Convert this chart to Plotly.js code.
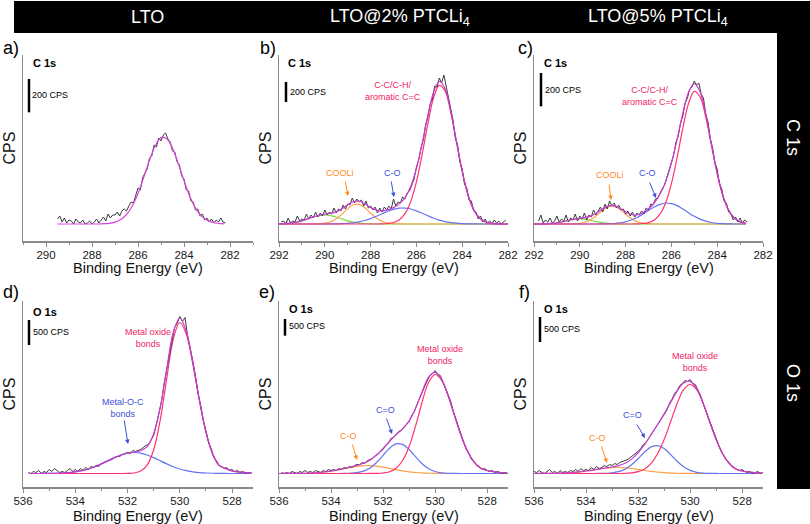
<!DOCTYPE html>
<html>
<head>
<meta charset="utf-8">
<script src="https://cdn.plot.ly/plotly-3.0.1.min.js"></script>
<style>html,body{margin:0;padding:0;background:#fff;}#chart{width:810px;height:524px;}</style>
</head>
<body>
<div id="chart"></div>
<script>
// ---------------- DATA (binding energy in eV, intensity in CPS) ----------------
// Panel a: LTO, C 1s
const E_a_raw = [289.5,289.4,289.3,289.2,289.1,289.0,288.9,288.8,288.7,288.6,288.5,288.4,288.3,288.2,288.1,288.0,287.9,287.8,287.7,287.6,287.5,287.4,287.3,287.2,287.1,287.0,286.9,286.8,286.7,286.6,286.5,286.4,286.3,286.2,286.1,286.0,285.9,285.8,285.7,285.6,285.5,285.4,285.3,285.2,285.1,285.0,284.9,284.8,284.7,284.6,284.5,284.4,284.3,284.2,284.1,284.0,283.9,283.8,283.7,283.6,283.5,283.4,283.3,283.2,283.1,283.0,282.9,282.8,282.7,282.6,282.5,282.4,282.3,282.2];
const a_raw = [30,48,12,36,6,24,18,0,30,12,6,24,0,6,18,0,12,30,6,24,42,18,60,36,54,
  54,72,48,78,90,78,108,132,126,180,216,204,276,306,330,396,408,474,462,516,
  498,534,546,510,492,438,432,372,354,288,270,204,198,138,132,84,90,48,60,24,
  36,12,30,6,24,12,36,12,6];
const E_a_fit = [289.5,289.25,289.0,288.75,288.5,288.25,288.0,287.75,287.5,287.25,287.0,286.75,286.5,286.25,286.0,285.75,285.5,285.25,285.0,284.75,284.5,284.25,284.0,283.75,283.5,283.25,283.0,282.75,282.5,282.25];
const a_fit = [0,0,0,0,0,0,0,0,2,4,11,27,57,108,183,280,382,469,518,512,455,362,259,166,95,49,23,10,4,1];

// Panel b: LTO@2% PTCLi4, C 1s
const E_b_raw = [291.9,291.8,291.7,291.6,291.5,291.4,291.3,291.2,291.1,291.0,
  290.9,290.8,290.7,290.6,290.5,290.4,290.3,290.2,290.1,290.0,
  289.9,289.8,289.7,289.6,289.5,289.4,289.3,289.2,289.1,289.0,
  288.9,288.8,288.7,288.6,288.5,288.4,288.3,288.2,288.1,288.0,
  287.9,287.8,287.7,287.6,287.5,287.4,287.3,287.2,287.1,287.0,
  286.9,286.8,286.7,286.6,286.5,286.4,286.3,286.2,286.1,286.0,
  285.9,285.8,285.7,285.6,285.5,285.4,285.3,285.2,285.1,285.0,
  284.9,284.8,284.7,284.6,284.5,284.4,284.3,284.2,284.1,284.0,
  283.9,283.8,283.7,283.6,283.5,283.4,283.3,283.2,283.1,283.0,
  282.9,282.8,282.7,282.6,282.5,282.4,282.3,282.2,282.1];
const b_raw = [20,30,0,60,10,30,20,80,30,50,
  40,100,50,90,60,120,70,110,80,140,
  90,120,100,160,110,150,130,190,150,200,
  190,260,210,250,220,240,180,230,160,180,
  140,170,110,160,120,170,140,180,150,250,
  180,220,210,270,250,310,330,400,450,570,
  640,760,840,990,1070,1200,1250,1380,1370,1460,
  1410,1490,1370,1280,1160,1040,860,790,620,550,
  400,360,240,230,130,120,50,80,20,50,
  10,30,0,40,10,30,0,20,40];
const E_b_fit = [292.0,291.75,291.5,291.25,291.0,290.75,290.5,290.25,290.0,289.75,289.5,289.25,289.0,288.75,288.5,288.25,288.0,287.75,287.5,287.25,287.0,286.75,286.5,286.25,286.0,285.75,285.5,285.25,285.0,284.75,284.5,284.25,284.0,283.75,283.5,283.25,283.0,282.75,282.5,282.25,282.0];
const b_green  = [2,4,9,18,32,51,70,84,90,84,70,51,32,18,9,4,2,0,0,0,0,0,0,0,0,0,0,0,0,0,0,0,0,0,0,0,0,0,0,0,0];
const b_orange = [0,0,0,0,0,0,1,3,8,22,52,99,154,193,197,163,110,61,27,10,3,1,0,0,0,0,0,0,0,0,0,0,0,0,0,0,0,0,0,0,0];
const b_blue   = [0,0,0,0,0,0,0,0,0,1,2,3,7,12,22,35,54,77,102,127,146,158,159,150,131,107,82,58,39,24,14,8,4,2,1,0,0,0,0,0,0];
const b_pink   = [0,0,0,0,0,0,0,0,0,0,0,0,0,0,0,0,0,0,2,5,15,42,103,224,422,696,1002,1261,1386,1331,1117,818,524,293,143,61,23,7,2,0,0];
const b_env    = [2,4,9,18,32,51,71,87,98,107,124,153,193,223,228,202,166,138,131,142,164,201,262,374,553,803,1084,1319,1425,1355,1131,826,528,295,144,61,23,7,2,0,0];

// Panel c: LTO@5% PTCLi4, C 1s
const E_c_raw = [291.8,291.7,291.6,291.5,291.4,291.3,291.2,291.1,291.0,
  290.9,290.8,290.7,290.6,290.5,290.4,290.3,290.2,290.1,290.0,
  289.9,289.8,289.7,289.6,289.5,289.4,289.3,289.2,289.1,289.0,
  288.9,288.8,288.7,288.6,288.5,288.4,288.3,288.2,288.1,288.0,
  287.9,287.8,287.7,287.6,287.5,287.4,287.3,287.2,287.1,287.0,
  286.9,286.8,286.7,286.6,286.5,286.4,286.3,286.2,286.1,286.0,
  285.9,285.8,285.7,285.6,285.5,285.4,285.3,285.2,285.1,285.0,
  284.9,284.8,284.7,284.6,284.5,284.4,284.3,284.2,284.1,284.0,
  283.9,283.8,283.7,283.6,283.5,283.4,283.3,283.2,283.1,283.0,
  282.9,282.8,282.7];
const c_raw = [18,54,6,24,12,36,6,18,48,
  12,30,18,54,12,36,24,60,18,48,
  30,66,24,54,42,84,54,78,102,72,
  120,90,138,108,126,96,114,84,90,60,
  78,48,72,42,66,54,78,60,96,84,
  120,114,150,156,186,210,234,282,318,378,
  414,492,528,606,648,726,756,810,822,858,
  834,846,780,756,660,612,510,456,366,330,
  240,210,138,126,72,60,24,42,12,36,
  6,24,12];
const E_c_fit = [292.0,291.75,291.5,291.25,291.0,290.75,290.5,290.25,290.0,289.75,289.5,289.25,289.0,288.75,288.5,288.25,288.0,287.75,287.5,287.25,287.0,286.75,286.5,286.25,286.0,285.75,285.5,285.25,285.0,284.75,284.5,284.25,284.0,283.75,283.5,283.25,283.0,282.75];
const c_green  = [0,0,1,4,7,14,21,28,30,28,21,14,7,4,1,0,0,0,0,0,0,0,0,0,0,0,0,0,0,0,0,0,0,0,0,0,0,0];
const c_orange = [0,0,0,0,0,0,0,1,4,12,28,53,83,104,106,88,59,33,14,5,2,0,0,0,0,0,0,0,0,0,0,0,0,0,0,0,0,0];
const c_blue   = [0,0,0,0,0,0,0,0,0,0,0,0,1,1,3,7,13,24,39,59,81,102,118,126,122,110,90,67,46,29,17,9,4,2,1,0,0,0];
const c_pink   = [0,0,0,0,0,0,0,0,0,0,0,0,0,0,0,0,0,0,1,3,8,24,59,128,242,400,575,724,796,764,641,470,301,168,82,35,13,4];
const c_env    = [0,0,1,4,7,14,21,29,34,40,49,67,91,109,110,95,73,57,54,67,91,126,178,254,365,509,665,791,842,794,658,479,305,170,83,36,13,4];

// Panel d: LTO, O 1s
const E_d_raw = [535.8,535.7,535.6,535.5,535.4,535.3,535.2,535.1,535.0,
  534.9,534.8,534.7,534.6,534.5,534.4,534.3,534.2,534.1,534.0,
  533.9,533.8,533.7,533.6,533.5,533.4,533.3,533.2,533.1,533.0,
  532.9,532.8,532.7,532.6,532.5,532.4,532.3,532.2,532.1,532.0,
  531.9,531.8,531.7,531.6,531.5,531.4,531.3,531.2,531.1,531.0,
  530.9,530.8,530.7,530.6,530.5,530.4,530.3,530.2,530.1,530.0,
  529.9,529.8,529.7,529.6,529.5,529.4,529.3,529.2,529.1,529.0,
  528.9,528.8,528.7,528.6,528.5,528.4,528.3,528.2,528.1,528.0,
  527.9,527.8,527.7,527.6,527.5,527.4,527.3];
const d_raw = [20,0,40,20,60,0,40,20,80,
  40,100,60,20,40,20,60,100,40,80,
  40,100,60,120,80,140,120,160,140,200,
  220,240,260,280,320,340,340,380,400,420,
  400,460,440,460,480,520,560,580,680,760,
  980,1220,1440,1800,2080,2420,2640,2920,3000,3140,
  3040,3120,2740,2520,2240,1940,1600,1360,1060,860,
  620,500,320,260,160,140,100,120,60,80,
  40,60,20,40,0,20,20];
const E_d_fit = [535.75,535.5,535.25,535.0,534.75,534.5,534.25,534.0,533.75,533.5,533.25,533.0,532.75,532.5,532.25,532.0,531.75,531.5,531.25,531.0,530.75,530.5,530.25,530.0,529.75,529.5,529.25,529.0,528.75,528.5,528.25,528.0,527.75,527.5,527.25];
const d_blue = [0,0,1,2,5,10,18,34,56,90,136,192,254,318,370,408,420,408,370,318,254,192,136,90,56,34,18,10,5,2,1,0,0,0,0];
const d_pink = [0,0,0,0,0,0,0,0,0,0,0,0,0,0,0,2,10,48,168,476,1068,1902,2690,3020,2784,2182,1452,822,396,162,100,50,30,20,14];
const d_env  = [0,0,1,2,5,10,18,34,56,90,136,192,254,318,370,410,430,456,538,794,1322,2094,2826,3110,2840,2216,1470,832,401,164,101,50,30,20,14];

// Panel e: LTO@2% PTCLi4, O 1s
const E_e_raw = [535.9,535.8,535.7,535.6,535.5,535.4,535.3,535.2,535.1,535.0,
  534.9,534.8,534.7,534.6,534.5,534.4,534.3,534.2,534.1,534.0,
  533.9,533.8,533.7,533.6,533.5,533.4,533.3,533.2,533.1,533.0,
  532.9,532.8,532.7,532.6,532.5,532.4,532.3,532.2,532.1,532.0,
  531.9,531.8,531.7,531.6,531.5,531.4,531.3,531.2,531.1,531.0,
  530.9,530.8,530.7,530.6,530.5,530.4,530.3,530.2,530.1,530.0,
  529.9,529.8,529.7,529.6,529.5,529.4,529.3,529.2,529.1,529.0,
  528.9,528.8,528.7,528.6,528.5,528.4,528.3,528.2,528.1,528.0,
  527.9,527.8,527.7,527.6,527.5,527.4,527.3,527.2];
const e_raw = [30,0,30,0,60,30,0,60,30,90,
  30,60,30,90,60,30,90,60,120,90,
  120,90,150,120,180,150,210,180,240,270,
  270,330,300,390,420,450,540,570,660,720,
  840,900,1050,1080,1170,1260,1290,1380,1470,1560,
  1740,1860,2070,2250,2430,2640,2790,2940,3000,3090,
  2970,2940,2730,2580,2340,2160,1860,1620,1350,1140,
  930,720,600,420,360,240,210,120,150,90,
  60,90,30,60,30,0,30,0];
const E_ef_fit = [536.0,535.75,535.5,535.25,535.0,534.75,534.5,534.25,534.0,533.75,533.5,533.25,533.0,532.75,532.5,532.25,532.0,531.75,531.5,531.25,531.0,530.75,530.5,530.25,530.0,529.75,529.5,529.25,529.0,528.75,528.5,528.25,528.0,527.75,527.5,527.25];
const e_orange = [0,1,1,3,7,14,26,45,72,105,147,186,216,237,239,222,192,153,114,78,48,30,16,8,4,2,0,0,0,0,0,0,0,0,0,0];
const e_blue   = [0,0,0,0,0,0,0,0,0,0,2,8,26,72,168,330,546,759,888,873,720,501,291,144,60,20,6,2,0,0,0,0,0,0,0,0];
const e_pink   = [0,0,0,0,0,0,0,0,0,0,0,0,0,0,1,4,15,54,159,390,810,1428,2145,2739,2970,2796,2334,1725,1131,657,339,156,90,54,30,18];
const e_env    = [0,1,1,3,7,14,26,45,72,105,149,194,242,309,407,556,753,966,1161,1341,1578,1959,2452,2891,3034,2818,2340,1727,1131,657,339,156,90,54,30,18];

// Panel f: LTO@5% PTCLi4, O 1s
const E_f_raw = [536.0,
  535.9,535.8,535.7,535.6,535.5,535.4,535.3,535.2,535.1,535.0,
  534.9,534.8,534.7,534.6,534.5,534.4,534.3,534.2,534.1,534.0,
  533.9,533.8,533.7,533.6,533.5,533.4,533.3,533.2,533.1,533.0,
  532.9,532.8,532.7,532.6,532.5,532.4,532.3,532.2,532.1,532.0,
  531.9,531.8,531.7,531.6,531.5,531.4,531.3,531.2,531.1,531.0,
  530.9,530.8,530.7,530.6,530.5,530.4,530.3,530.2,530.1,530.0,
  529.9,529.8,529.7,529.6,529.5,529.4,529.3,529.2,529.1,529.0,
  528.9,528.8,528.7,528.6,528.5,528.4,528.3,528.2,528.1,528.0,
  527.9,527.8,527.7,527.6,527.5,527.4,527.3,527.2];
const f_raw = [40,
  20,60,20,0,40,80,20,40,0,60,
  20,40,20,60,40,80,40,100,60,80,
  60,120,80,140,100,120,160,140,180,160,
  200,180,220,240,260,280,320,360,400,440,
  500,580,620,700,780,860,920,1020,1080,1180,
  1260,1400,1480,1600,1660,1760,1800,1860,1840,1880,
  1800,1780,1660,1560,1400,1260,1120,960,800,680,
  560,440,360,260,220,140,120,80,60,80,
  40,20,40,0,20,40,0,20];
const f_orange = [0,1,1,3,6,11,20,32,50,68,88,106,117,120,114,100,80,60,42,28,16,9,5,2,1,0,0,0,0,0,0,0,0,0,0,0];
const f_blue   = [0,0,0,0,0,0,0,0,0,0,1,4,13,36,86,174,296,430,532,558,498,378,244,134,62,24,8,2,1,0,0,0,0,0,0,0];
const f_pink   = [0,0,0,0,0,0,0,0,0,0,0,0,0,0,4,14,38,92,202,394,678,1034,1400,1676,1780,1676,1400,1034,678,394,202,92,50,30,18,10];
const f_env    = [0,1,1,3,6,11,20,32,50,68,89,110,130,156,204,288,414,582,776,980,1192,1421,1649,1812,1843,1700,1408,1036,679,394,202,92,50,30,18,10];

// Labels
const columnTitles = ["LTO", "LTO@2% PTCLi<sub>4</sub>", "LTO@5% PTCLi<sub>4</sub>"];
const rowTitles = ["C 1s", "O 1s"];
const panelLetters = ["a)", "b)", "c)", "d)", "e)", "f)"];
const xTitle = "Binding Energy (eV)";
const yTitle = "CPS";
const scaleBarValues = [200, 200, 200, 500, 500, 500];   // CPS represented by the scale bars

// ---------------- STYLE / LAYOUT ----------------
const FONT = "Liberation Sans, Arial, Helvetica, sans-serif";
const W = 810, H = 524;
const px = x => x / W;
const py = y => 1 - y / H;

const COL = {raw:"#3c3c3c", env:"#c83cd2", pink:"#ff336e", blue:"#6673f0", orange:"#ffa04a", green:"#78e040", axis:"#8a8a8a"};
const TXT = {pink:"#f0245f", blue:"#3d4fdc", orange:"#ff8a1e"};

// panel geometry in pixels (xt: y of the x-axis title centre)
const geo = [
  {x0:23,  x1:253, y0:55,  y1:241, range:[291,281],   yr:[-102,1014], xt:268},
  {x0:279, x1:508, y0:55,  y1:241, range:[292,282],   yr:[-170,1690], xt:268},
  {x0:534, x1:763, y0:55,  y1:241, range:[292,282],   yr:[-102,1014], xt:268},
  {x0:23,  x1:253, y0:301, y1:487, range:[536,527.2], yr:[-270,3450], xt:516},
  {x0:279, x1:508, y0:301, y1:487, range:[536,527.2], yr:[-405,5175], xt:516},
  {x0:534, x1:763, y0:301, y1:487, range:[536,527.2], yr:[-270,3450], xt:516}
];

const panels = [
  {raw:[E_a_raw,a_raw], fitX:E_a_fit, comps:[], env:a_fit},
  {raw:[E_b_raw,b_raw], fitX:E_b_fit, comps:[[b_green,COL.green],[b_orange,COL.orange],[b_blue,COL.blue],[b_pink,COL.pink]], env:b_env},
  {raw:[E_c_raw,c_raw], fitX:E_c_fit, comps:[[c_green,COL.green],[c_orange,COL.orange],[c_blue,COL.blue],[c_pink,COL.pink]], env:c_env},
  {raw:[E_d_raw,d_raw], fitX:E_d_fit, comps:[[d_blue,COL.blue],[d_pink,COL.pink]], env:d_env},
  {raw:[E_e_raw,e_raw], fitX:E_ef_fit, comps:[[e_orange,COL.orange],[e_blue,COL.blue],[e_pink,COL.pink]], env:e_env},
  {raw:[E_f_raw,f_raw], fitX:E_ef_fit, comps:[[f_orange,COL.orange],[f_blue,COL.blue],[f_pink,COL.pink]], env:f_env}
];

const traces = [];
const layout = {
  width: W, height: H,
  margin: {l:0, r:0, t:0, b:0},
  paper_bgcolor: "#ffffff", plot_bgcolor: "rgba(0,0,0,0)",
  showlegend: false,
  font: {family: FONT, color: "#111"},
  shapes: [], annotations: []
};
const ann = layout.annotations;
const addText = (x, y, text, opts) => ann.push(Object.assign({xref:"paper", yref:"paper", x:px(x), y:py(y), text:text,
  showarrow:false, xanchor:"center", yanchor:"middle", borderpad:0, font:{family:FONT, size:10, color:"#000"}}, opts || {}));
const addArrow = (x, y, ax, ay, color) => ann.push({xref:"paper", yref:"paper", x:px(x), y:py(y), text:"",
  showarrow:true, ax:ax - x, ay:ay - y, arrowhead:2, arrowsize:0.9, arrowwidth:1, arrowcolor:color});

panels.forEach((p, i) => {
  const n = i === 0 ? "" : String(i + 1);
  const xa = "x" + n, ya = "y" + n;
  const g = geo[i];
  p.comps.forEach(c => traces.push({x:p.fitX, y:c[0], xaxis:xa, yaxis:ya, type:"scatter", mode:"lines",
    line:{color:c[1], width:1.2, shape:"spline", smoothing:1}, hoverinfo:"skip"}));
  traces.push({x:p.raw[0], y:p.raw[1], xaxis:xa, yaxis:ya, type:"scatter", mode:"lines",
    line:{color:COL.raw, width:1}, hoverinfo:"skip"});
  traces.push({x:p.fitX, y:p.env, xaxis:xa, yaxis:ya, type:"scatter", mode:"lines",
    line:{color: i === 0 ? "#dd44dd" : COL.env, width:1.2, shape:"spline", smoothing:1}, hoverinfo:"skip"});

  layout["xaxis" + n] = {
    domain:[px(g.x0), px(g.x1)], range:g.range, anchor:ya,
    showline:true, linecolor:COL.axis, linewidth:1.5, mirror:false,
    ticks:"outside", ticklen:4, tickwidth:1, tickcolor:COL.axis,
    tick0:0, dtick:2, ticklabelstandoff:-1,
    minor:{dtick:1, ticks:"outside", ticklen:2.5, tickwidth:1, tickcolor:COL.axis, showgrid:false},
    showgrid:false, zeroline:false,
    tickfont:{family:FONT, size:11.5, color:"#1a1a1a"},
    automargin:false, fixedrange:true
  };
  // x-axis title placed precisely under the tick labels
  addText((g.x0 + g.x1) / 2, g.xt, xTitle, {font:{family:FONT, size:14.5, color:"#111"}});
  layout["yaxis" + n] = {
    domain:[py(g.y1), py(g.y0)], range:g.yr, anchor:xa,
    showline:true, linecolor:COL.axis, linewidth:1.5,
    ticks:"", showticklabels:false, showgrid:false, zeroline:false,
    title:{text:yTitle, font:{family:FONT, size:16, color:"#111"}, standoff:2},
    automargin:false, fixedrange:true
  };
});

// header band and right band
layout.shapes.push({type:"rect", xref:"paper", yref:"paper", x0:px(14), x1:1, y0:py(33), y1:py(1), fillcolor:"#000", line:{width:0}, layer:"below"});
layout.shapes.push({type:"rect", xref:"paper", yref:"paper", x0:px(777), x1:1, y0:py(489), y1:py(33), fillcolor:"#000", line:{width:0}, layer:"below"});

// scale bars: x pixel position, top of bar in CPS
const barPos = [[29,870],[286,1420],[541,906],[29,3070],[285,4635],[540,3130]];
barPos.forEach((b, i) => {
  const n = i === 0 ? "" : String(i + 1);
  layout.shapes.push({type:"line", xref:"paper", yref:"y" + n, x0:px(b[0]), x1:px(b[0]),
    y0:b[1] - scaleBarValues[i], y1:b[1], line:{color:"#000", width:2.5}});
});

// header texts
[[147,17],[400,17],[658,17]].forEach((p, i) => addText(p[0], p[1], columnTitles[i], {font:{family:FONT, size:18, color:"#fff"}}));
addText(793, 137, rowTitles[0], {textangle:90, font:{family:FONT, size:18, color:"#fff"}});
addText(793, 383, rowTitles[1], {textangle:90, font:{family:FONT, size:18, color:"#fff"}});

// panel letters
[[11,48],[268,48],[525,48],[11,292],[267,292],[524,292]].forEach((p, i) => addText(p[0], p[1], panelLetters[i], {font:{family:FONT, size:18, color:"#000"}}));

// region labels and scale bar labels
[[32,63],[287,63],[543,63]].forEach(p => addText(p[0], p[1], "<b>" + rowTitles[0] + "</b>", {xanchor:"left", font:{family:FONT, size:11, color:"#000"}}));
[[32,312],[288,309],[543,309]].forEach(p => addText(p[0], p[1], "<b>" + rowTitles[1] + "</b>", {xanchor:"left", font:{family:FONT, size:11, color:"#000"}}));
[[31,95],[289,92],[544,90],[32,332],[288,326],[543,329]].forEach((p, i) => addText(p[0], p[1], scaleBarValues[i] + " CPS", {xanchor:"left", font:{family:FONT, size:9, color:"#000"}}));

// peak assignments
const f9 = c => ({family:FONT, size:9, color:c});
addText(393, 91, "C-C/C-H/<br>aromatic C=C", {font:f9(TXT.pink)});
addText(650, 96, "C-C/C-H/<br>aromatic C=C", {font:f9(TXT.pink)});
addText(340, 173, "COOLi", {font:f9(TXT.orange)}); addArrow(348, 196, 345, 180, TXT.orange);
addText(392, 173, "C-O", {font:f9(TXT.blue)});    addArrow(394, 197, 391, 180, TXT.blue);
addText(610, 175, "COOLi", {font:f9(TXT.orange)}); addArrow(611, 200, 609, 183, TXT.orange);
addText(647, 173, "C-O", {font:f9(TXT.blue)});    addArrow(656, 198, 649, 181, TXT.blue);
addText(148, 338, "Metal oxide<br>bonds", {font:f9(TXT.pink)});
addText(123, 408, "Metal-O-C<br>bonds", {font:f9(TXT.blue)}); addArrow(128, 444, 124, 419, TXT.blue);
addText(440, 355, "Metal oxide<br>bonds", {font:f9(TXT.pink)});
addText(385, 410, "C=O", {font:f9(TXT.blue)});   addArrow(392, 434, 386, 417, TXT.blue);
addText(348, 436, "C-O", {font:f9(TXT.orange)}); addArrow(357, 460, 352, 443, TXT.orange);
addText(695, 362, "Metal oxide<br>bonds", {font:f9(TXT.pink)});
addText(632, 415, "C=O", {font:f9(TXT.blue)});   addArrow(645, 438, 636, 423, TXT.blue);
addText(597, 438, "C-O", {font:f9(TXT.orange)}); addArrow(607, 463, 601, 445, TXT.orange);

Plotly.newPlot("chart", traces, layout, {staticPlot:true, displayModeBar:false});
</script>
</body>
</html>
